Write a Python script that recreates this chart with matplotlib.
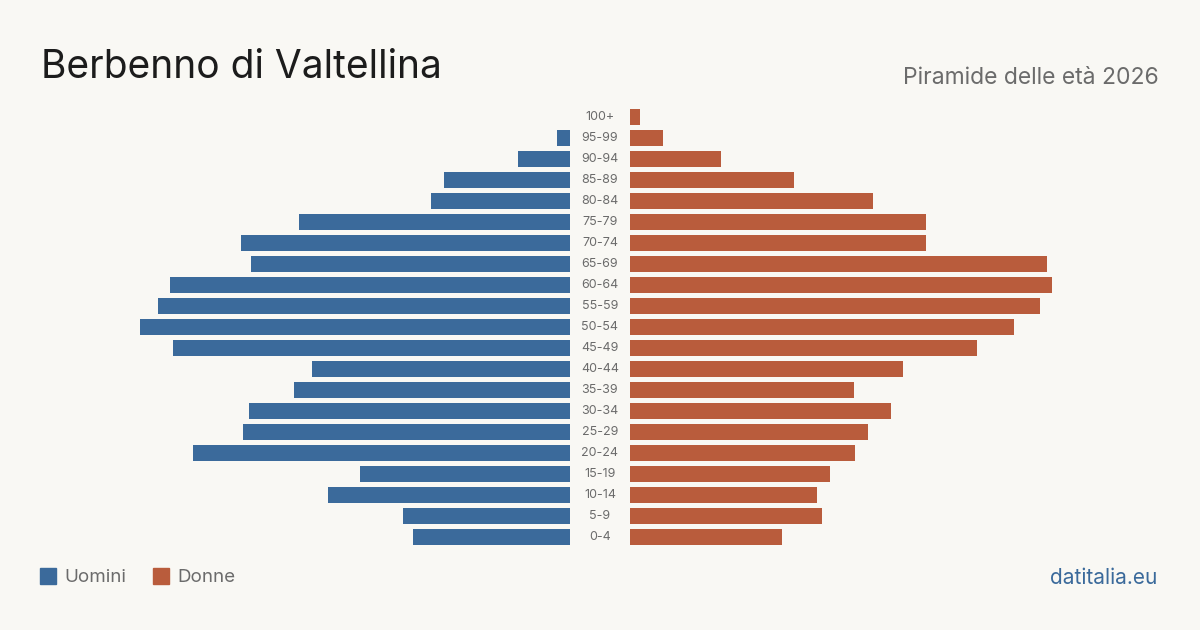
import matplotlib.pyplot as plt
from matplotlib.transforms import blended_transform_factory
from matplotlib.patches import Rectangle

ages = ["0-4", "5-9", "10-14", "15-19", "20-24", "25-29", "30-34", "35-39",
        "40-44", "45-49", "50-54", "55-59", "60-64", "65-69", "70-74", "75-79",
        "80-84", "85-89", "90-94", "95-99", "100+"]
uomini = [15.2, 16.2, 23.5, 20.4, 36.6, 31.7, 31.2, 26.8, 25, 38.5, 41.7, 40, 38.8, 31, 31.9, 26.3, 13.5, 12.2, 5, 1.3, 0]
donne = [14.8, 18.6, 18.2, 19.4, 21.8, 23.1, 25.3, 21.7, 26.5, 33.7, 37.3, 39.8, 41, 40.5, 28.7, 28.7, 23.6, 15.9, 8.8, 3.2, 1]

W, H = 1200, 630
bg = "#f9f8f4"
blue = "#3b6a9b"
orange = "#b95c3c"
grey = "#6b6b6b"

px = 10.3  # pixels per person
span = 530

plt.rcParams['font.family'] = ['Inter', 'DejaVu Sans']
fig = plt.figure(figsize=(W / 100, H / 100), dpi=100, facecolor=bg)

bottom = 1 - 547.5 / H
height = 441 / H
axl = fig.add_axes([40 / W, bottom, span / W, height])
axr = fig.add_axes([630 / W, bottom, span / W, height])

y = list(range(len(ages)))
axl.barh(y, uomini, height=0.8, color=blue)
axr.barh(y, donne, height=0.8, color=orange)
axl.set_xlim(span / px, 0)
axr.set_xlim(0, span / px)
for ax in (axl, axr):
    ax.set_ylim(-0.5, len(ages) - 0.5)
    ax.axis('off')

tr = blended_transform_factory(fig.transFigure, axl.transData)
for i, a in enumerate(ages):
    fig.text(600 / W, i, a, transform=tr, ha='center', va='center',
             fontsize=9, color=grey)

fig.text(41 / W, 1 - 68 / H, "Berbenno di Valtellina", fontsize=28,
         color="#1c1c1c", ha='left', va='center')
fig.text(1159 / W, 1 - 78 / H, "Piramide delle età 2026", fontsize=16.5,
         color=grey, ha='right', va='center')

fig.patches.append(Rectangle((40 / W, 1 - 584 / H), 16 / W, 16 / H,
                             transform=fig.transFigure, color=blue))
fig.text(64 / W, 1 - 577.5 / H, "Uomini", fontsize=13.5, color=grey,
         ha='left', va='center')
fig.patches.append(Rectangle((153 / W, 1 - 584 / H), 16 / W, 16 / H,
                             transform=fig.transFigure, color=orange))
fig.text(177 / W, 1 - 577.5 / H, "Donne", fontsize=13.5, color=grey,
         ha='left', va='center')
fig.text(1157 / W, 1 - 577.5 / H, "datitalia.eu", fontsize=15, color=blue,
         ha='right', va='center')

fig.savefig("out.png", dpi=100, facecolor=bg)
